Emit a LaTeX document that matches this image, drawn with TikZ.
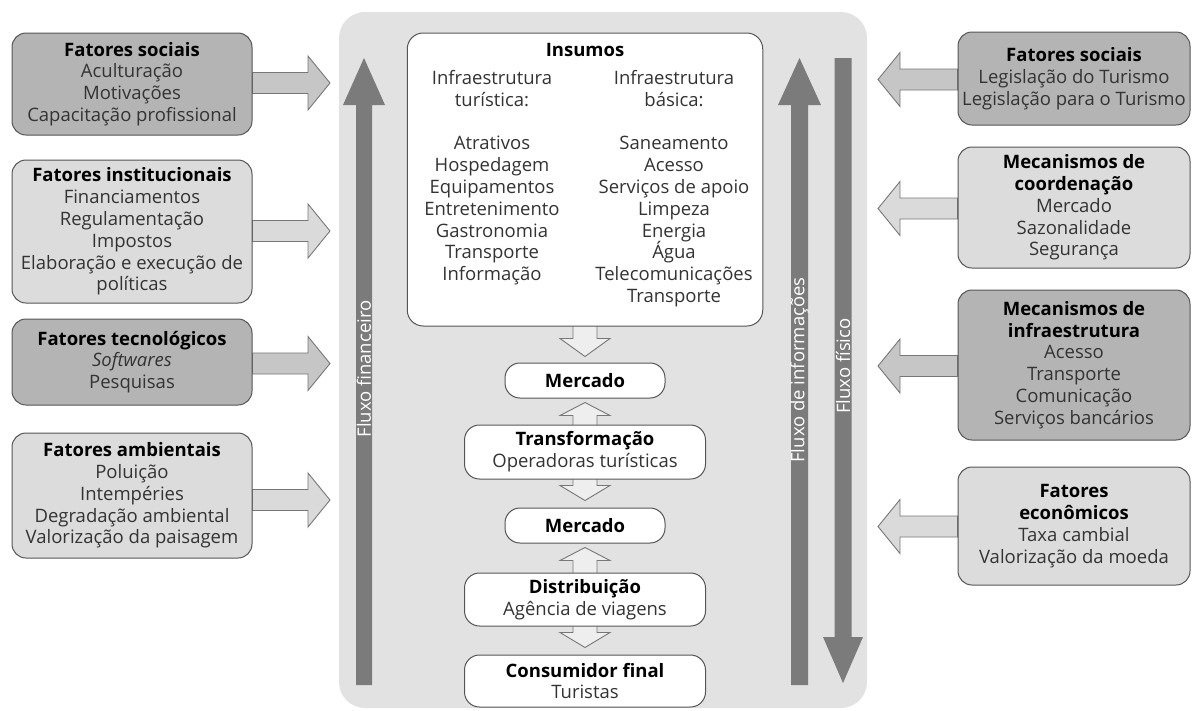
\documentclass[tikz,border=0pt]{standalone}
\usepackage{fontspec}
\setmainfont{Open Sans}
\usetikzlibrary{calc,backgrounds}
\definecolor{panel}{HTML}{E2E2E2}
\definecolor{darkfill}{HTML}{B4B4B4}
\definecolor{lightfill}{HTML}{DCDCDC}
\definecolor{darkarr}{HTML}{C6C6C6}
\definecolor{lightarr}{HTML}{DADADA}
\definecolor{flow}{HTML}{7B7B7B}
\definecolor{edge}{HTML}{555555}
\definecolor{arredge}{HTML}{777777}
\definecolor{txt}{HTML}{333333}
\newcommand\ttl[1]{\textcolor{black}{\bfseries #1}}
\newcommand\toright[3]{% box, centre y, fill
  \coordinate (tA) at (0,#2-10.5);
  \coordinate (tB) at (0,#2+10.5);
  \draw[blockarr, fill=#3] (#1.east |- tA) -- (308,#2-10.5) -- (308,#2-27) -- (330,#2)
    -- (308,#2+27) -- (308,#2+10.5) -- (#1.east |- tB) -- cycle;
}
\newcommand\toleft[3]{% box, centre y, fill
  \coordinate (tA) at (0,#2-10.5);
  \coordinate (tB) at (0,#2+10.5);
  \draw[blockarr, fill=#3] (#1.west |- tA) -- (900,#2-10.5) -- (900,#2-27) -- (878,#2)
    -- (900,#2+27) -- (900,#2+10.5) -- (#1.west |- tB) -- cycle;
}
\newcommand\dbl[2]{%
  \draw[blockarr, fill=white!40!panel] ($(#1.south)+(0,4)$) -- ($(#1.south)+(25,17)$) -- ($(#1.south)+(12,17)$)
    -- ($(#2.north)+(12,-22)$) -- ($(#2.north)+(25,-22)$) -- ($(#2.north)+(0,-7)$)
    -- ($(#2.north)+(-25,-22)$) -- ($(#2.north)+(-12,-22)$) -- ($(#1.south)+(-12,17)$)
    -- ($(#1.south)+(-25,17)$) -- cycle;
}
\begin{document}
\begin{tikzpicture}[x=1pt,y=-1pt,
  every node/.style={font=\fontsize{18.5}{21.8}\selectfont, text=txt, align=center, inner sep=0pt},
  factor/.style={draw=edge, line width=1pt, rounded corners=14pt},
  darkbox/.style={factor, fill=darkfill, minimum width=240},
  lightbox/.style={factor, fill=lightfill, minimum width=240},
  rdark/.style={factor, fill=darkfill, minimum width=232},
  rlight/.style={factor, fill=lightfill, minimum width=232},
  chain/.style={draw=edge, line width=1pt, fill=white, rounded corners=15pt},
  blockarr/.style={draw=arredge, line width=0.9pt, line join=miter},
  flowlabel/.style={text=white, rotate=90}
]
\useasboundingbox (0,0) rectangle (1192,710);

% left factor boxes
\node[darkbox, minimum height=102] (ls1) at (132,84)
  {\ttl{Fatores sociais}\\Aculturação\\Motivações\\Capacitação profissional};
\node[lightbox, minimum height=143] (ls2) at (132,231.5)
  {\ttl{Fatores institucionais}\\Financiamentos\\Regulamentação\\Impostos\\Elaboração e execução de\\políticas};
\node[darkbox, minimum height=86] (ls3) at (132,362)
  {\ttl{Fatores tecnológicos}\\\textit{Softwares}\\Pesquisas};
\node[lightbox, minimum height=125] (ls4) at (132,495.5)
  {\ttl{Fatores ambientais}\\Poluição\\Intempéries\\Degradação ambiental\\Valorização da paisagem};

% right factor boxes
\node[rdark, minimum height=93] (rs1) at (1074,78.5)
  {\ttl{Fatores sociais}\\Legislação do Turismo\\Legislação para o Turismo};
\node[rlight, minimum height=121] (rs2) at (1074,207.5)
  {\ttl{Mecanismos de}\\\ttl{coordenação}\\Mercado\\Sazonalidade\\Segurança};
\node[rdark, minimum height=150] (rs3) at (1074,365)
  {\ttl{Mecanismos de}\\\ttl{infraestrutura}\\Acesso\\Transporte\\Comunicação\\Serviços bancários};
\node[rlight, minimum height=118] (rs4) at (1074,526)
  {\ttl{Fatores}\\\ttl{econômicos}\\Taxa cambial\\Valorização da moeda};

% central chain
\node[chain, minimum width=355.5, minimum height=293, rounded corners=16pt] (ins) at (585,179.5) {};
\node (insT) at (585,50) {\ttl{Insumos}};
\node[anchor=north] (colL) at (492,70)
  {Infraestrutura\\turística:\\[22pt]Atrativos\\Hospedagem\\Equipamentos\\Entretenimento\\Gastronomia\\Transporte\\Informação};
\node[anchor=north] (colR) at (674,70)
  {Infraestrutura\\básica:\\[22pt]Saneamento\\Acesso\\Serviços de apoio\\Limpeza\\Energia\\Água\\Telecomunicações\\Transporte};
\node[chain, minimum width=160, minimum height=35] (m1) at (585,380.5) {\ttl{Mercado}};
\node[chain, minimum width=241, minimum height=54] (tr) at (585,452) {\ttl{Transformação}\\Operadoras turísticas};
\node[chain, minimum width=160, minimum height=35] (m2) at (585,525.5) {\ttl{Mercado}};
\node[chain, minimum width=241, minimum height=53] (di) at (585,599.5) {\ttl{Distribuição}\\Agência de viagens};
\node[chain, minimum width=241, minimum height=52] (cf) at (585,681) {\ttl{Consumidor final}\\Turistas};

\begin{pgfonlayer}{background}
  \fill[panel] [rounded corners=26pt] (339,12) rectangle (867,708);
  % flow arrows
  \fill[flow] (356,685) -- (356,105) -- (343,105) -- (364,58) -- (385,105) -- (372,105) -- (372,685) -- cycle;
  \fill[flow] (791,685) -- (791,105) -- (778,105) -- (799.5,58) -- (821,105) -- (808,105) -- (808,685) -- cycle;
  \fill[flow] (834.5,58) -- (851.5,58) -- (851.5,637) -- (863,637) -- (843,683) -- (823,637) -- (834.5,637) -- cycle;
  % side arrows
  \toright{ls1}{83}{darkarr}
  \toright{ls2}{231}{lightarr}
  \toright{ls3}{363.5}{darkarr}
  \toright{ls4}{500}{lightarr}
  \toleft{rs1}{79.5}{darkarr}
  \toleft{rs2}{208.5}{lightarr}
  \toleft{rs3}{366}{darkarr}
  \toleft{rs4}{526.5}{lightarr}
  % chain arrows
  \draw[blockarr, fill=white!40!panel] ($(ins.south)+(-12,-3)$) -- ($(ins.south)+(-12,12)$) -- ($(ins.south)+(-25,12)$)
    -- ($(m1.north)+(0,-6)$) -- ($(ins.south)+(25,12)$) -- ($(ins.south)+(12,12)$) -- ($(ins.south)+(12,-3)$) -- cycle;
  \dbl{m1}{m2}
  \dbl{m2}{cf}
\end{pgfonlayer}

\node[flowlabel] (lf) at (364,369) {Fluxo financeiro};
\node[flowlabel] (li) at (799.5,370) {Fluxo de informações};
\node[flowlabel] (lp) at (843,366) {Fluxo físico};
\end{tikzpicture}
\end{document}
